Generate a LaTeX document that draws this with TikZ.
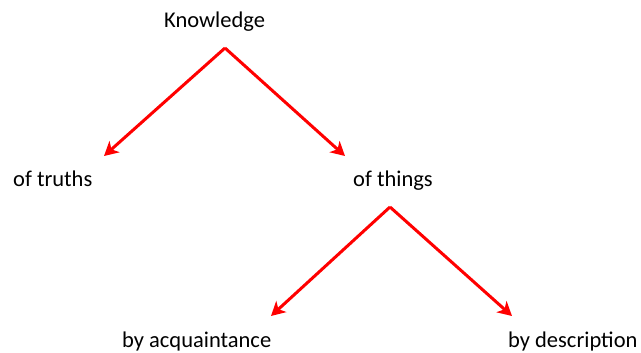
\documentclass[tikz,border=0pt]{standalone}
\usepackage{fontspec}
\setmainfont{Carlito}
\usetikzlibrary{arrows.meta}
\begin{document}
\begin{tikzpicture}[x=1pt,y=-1pt,
  lbl/.style={anchor=base west,inner sep=0pt,font=\fontsize{22.5}{26}\selectfont},
  arr/.style={draw=red,line width=3pt,-{Stealth[length=14pt,width=15pt,inset=4pt]}}]
\useasboundingbox (0,0) rectangle (641,353);
\node[lbl] (k) at (164,28) {Knowledge};
\node[lbl] (t) at (13,186) {of truths};
\node[lbl] (th) at (353,186) {of things};
\node[lbl] (a) at (122,347) {by acquaintance};
\node[lbl] (d) at (508,347) {by description};
\coordinate (k1) at (225,48);
\coordinate (t1) at (104,156);
\coordinate (th1) at (345,156);
\coordinate (th2) at (390,207);
\coordinate (a1) at (271,316);
\coordinate (d1) at (512,316);
\draw[arr] (k1) -- (t1);
\draw[arr] (k1) -- (th1);
\draw[arr] (th2) -- (a1);
\draw[arr] (th2) -- (d1);
\end{tikzpicture}
\end{document}
